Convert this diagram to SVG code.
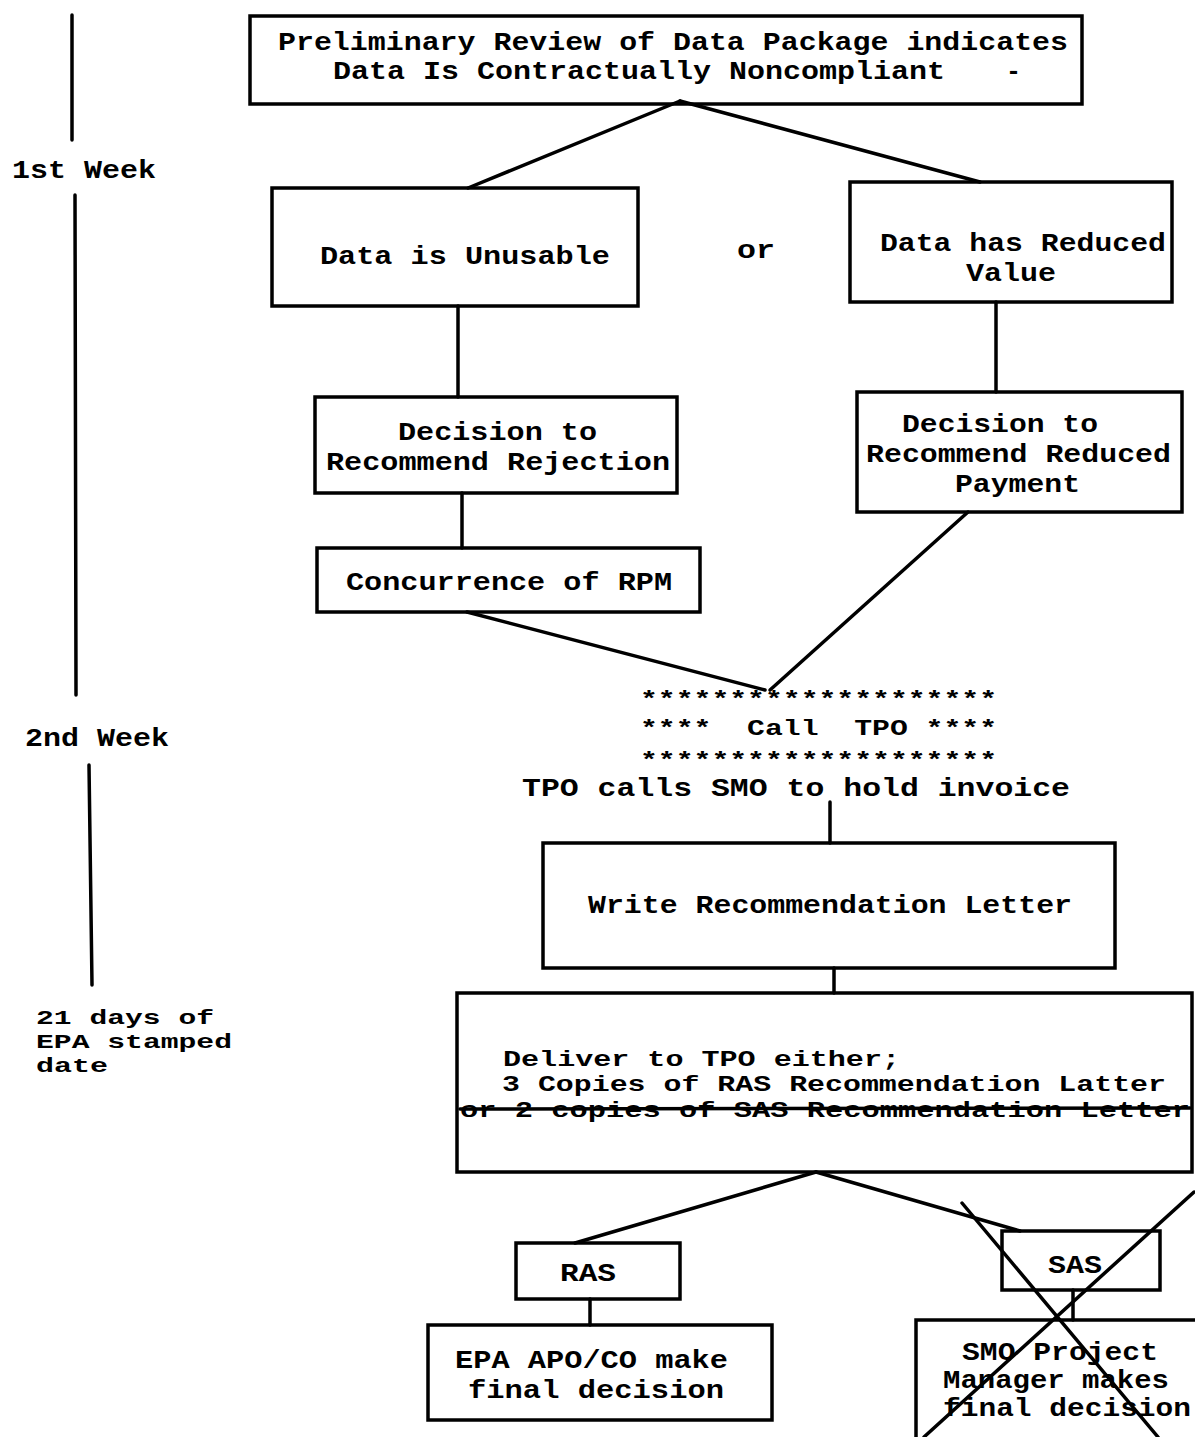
<svg xmlns="http://www.w3.org/2000/svg" width="1195" height="1437" viewBox="0 0 1195 1437">
<style>
.box{fill:none;stroke:#000;stroke-width:3.5}
.ln{fill:none;stroke:#000;stroke-width:3.5;stroke-linecap:round}
.t{font-family:"Liberation Mono","Courier New",monospace;font-size:25px;font-weight:bold;fill:#000}
.s{font-size:22px}
.xs{font-size:21px}
</style>
<rect width="1195" height="1437" fill="#fff"/>
<g id="timeline">
<line class="ln" x1="72" y1="15" x2="72" y2="140"/>
<text class="t" x="12" y="178" textLength="144" lengthAdjust="spacingAndGlyphs">1st Week</text>
<line class="ln" x1="75" y1="195" x2="76" y2="695"/>
<text class="t" x="25" y="746" textLength="144" lengthAdjust="spacingAndGlyphs">2nd Week</text>
<line class="ln" x1="89" y1="765" x2="92" y2="985"/>
<text class="t xs" x="36" y="1024" textLength="178" lengthAdjust="spacingAndGlyphs">21 days of</text>
<text class="t xs" x="36" y="1048" textLength="196" lengthAdjust="spacingAndGlyphs">EPA stamped</text>
<text class="t xs" x="36" y="1072" textLength="72" lengthAdjust="spacingAndGlyphs">date</text>
</g>
<g id="connectors">
<line class="ln" x1="680" y1="101" x2="468" y2="188"/>
<line class="ln" x1="680" y1="101" x2="980" y2="182"/>
<line class="ln" x1="458" y1="306" x2="458" y2="397"/>
<line class="ln" x1="996" y1="302" x2="996" y2="392"/>
<line class="ln" x1="462" y1="493" x2="462" y2="548"/>
<line class="ln" x1="467" y1="612" x2="765" y2="690"/>
<line class="ln" x1="968" y1="512" x2="770" y2="690"/>
<line class="ln" x1="830" y1="802" x2="830" y2="843"/>
<line class="ln" x1="834" y1="968" x2="834" y2="993"/>
<line class="ln" x1="816" y1="1172" x2="575" y2="1243"/>
<line class="ln" x1="816" y1="1172" x2="1020" y2="1231"/>
<line class="ln" x1="590" y1="1299" x2="590" y2="1325"/>
<line class="ln" x1="1073" y1="1290" x2="1073" y2="1320"/>
</g>
<g id="n-preliminary">
<rect class="box" x="250" y="16" width="832" height="88"/>
<text class="t" x="278" y="50" textLength="790" lengthAdjust="spacingAndGlyphs">Preliminary Review of Data Package indicates</text>
<text class="t" x="333" y="79" textLength="612" lengthAdjust="spacingAndGlyphs">Data Is Contractually Noncompliant</text>
<text class="t" x="1006" y="79">-</text>
</g>
<g id="n-unusable">
<rect class="box" x="272" y="188" width="366" height="118"/>
<text class="t" x="320" y="264" textLength="290" lengthAdjust="spacingAndGlyphs">Data is Unusable</text>
</g>
<text class="t" x="737" y="258" textLength="38" lengthAdjust="spacingAndGlyphs">or</text>
<g id="n-reduced">
<rect class="box" x="850" y="182" width="322" height="120"/>
<text class="t" x="880" y="251" textLength="286" lengthAdjust="spacingAndGlyphs">Data has Reduced</text>
<text class="t" x="966" y="281" textLength="90" lengthAdjust="spacingAndGlyphs">Value</text>
</g>
<g id="n-rejection">
<rect class="box" x="315" y="397" width="362" height="96"/>
<text class="t" x="398" y="440" textLength="199" lengthAdjust="spacingAndGlyphs">Decision to</text>
<text class="t" x="326" y="470" textLength="344" lengthAdjust="spacingAndGlyphs">Recommend Rejection</text>
</g>
<g id="n-reduced-payment">
<rect class="box" x="857" y="392" width="325" height="120"/>
<text class="t" x="902" y="432" textLength="196" lengthAdjust="spacingAndGlyphs">Decision to</text>
<text class="t" x="866" y="462" textLength="305" lengthAdjust="spacingAndGlyphs">Recommend Reduced</text>
<text class="t" x="955" y="492" textLength="125" lengthAdjust="spacingAndGlyphs">Payment</text>
</g>
<g id="n-concurrence">
<rect class="box" x="317" y="548" width="383" height="64"/>
<text class="t" x="346" y="590" textLength="326" lengthAdjust="spacingAndGlyphs">Concurrence of RPM</text>
</g>
<g id="n-call-tpo">
<text class="t s" x="640" y="706" textLength="357" lengthAdjust="spacingAndGlyphs">********************</text>
<text class="t s" x="640" y="735" xml:space="preserve" textLength="357" lengthAdjust="spacingAndGlyphs">****  Call  TPO ****</text>
<text class="t s" x="640" y="767" textLength="357" lengthAdjust="spacingAndGlyphs">********************</text>
<text class="t" x="522" y="796" textLength="548" lengthAdjust="spacingAndGlyphs">TPO calls SMO to hold invoice</text>
</g>
<g id="n-write">
<rect class="box" x="543" y="843" width="572" height="125"/>
<text class="t" x="588" y="913" textLength="484" lengthAdjust="spacingAndGlyphs">Write Recommendation Letter</text>
</g>
<g id="n-deliver">
<rect class="box" x="457" y="993" width="735" height="179"/>
<text class="t s" x="503" y="1066" textLength="397" lengthAdjust="spacingAndGlyphs">Deliver to TPO either;</text>
<text class="t s" x="502" y="1091" textLength="664" lengthAdjust="spacingAndGlyphs">3 Copies of RAS Recommendation Latter</text>
<text class="t s" x="460" y="1117" textLength="730" lengthAdjust="spacingAndGlyphs">or 2 copies of SAS Recommendation Letter</text>
<line class="ln" x1="460" y1="1109" x2="1190" y2="1108" stroke-width="2.5"/>
</g>
<g id="n-ras">
<rect class="box" x="516" y="1243" width="164" height="56"/>
<text class="t" x="560" y="1281" textLength="56" lengthAdjust="spacingAndGlyphs">RAS</text>
</g>
<g id="n-epa">
<rect class="box" x="428" y="1325" width="344" height="95"/>
<text class="t" x="455" y="1368" textLength="273" lengthAdjust="spacingAndGlyphs">EPA APO/CO make</text>
<text class="t" x="468" y="1398" textLength="256" lengthAdjust="spacingAndGlyphs">final decision</text>
</g>
<g id="n-sas">
<rect class="box" x="1002" y="1231" width="158" height="59"/>
<text class="t" x="1048" y="1273" textLength="54" lengthAdjust="spacingAndGlyphs">SAS</text>
</g>
<g id="n-smo">
<rect class="box" x="916" y="1320" width="290" height="130"/>
<text class="t" x="962" y="1360" textLength="196" lengthAdjust="spacingAndGlyphs">SMO Project</text>
<text class="t" x="943" y="1388" textLength="226" lengthAdjust="spacingAndGlyphs">Manager makes</text>
<text class="t" x="943" y="1416" textLength="248" lengthAdjust="spacingAndGlyphs">final decision</text>
</g>
<g id="cross-out">
<line class="ln" x1="962" y1="1203" x2="1158" y2="1437"/>
<line class="ln" x1="1194" y1="1192" x2="924" y2="1437"/>
</g>
</svg>
